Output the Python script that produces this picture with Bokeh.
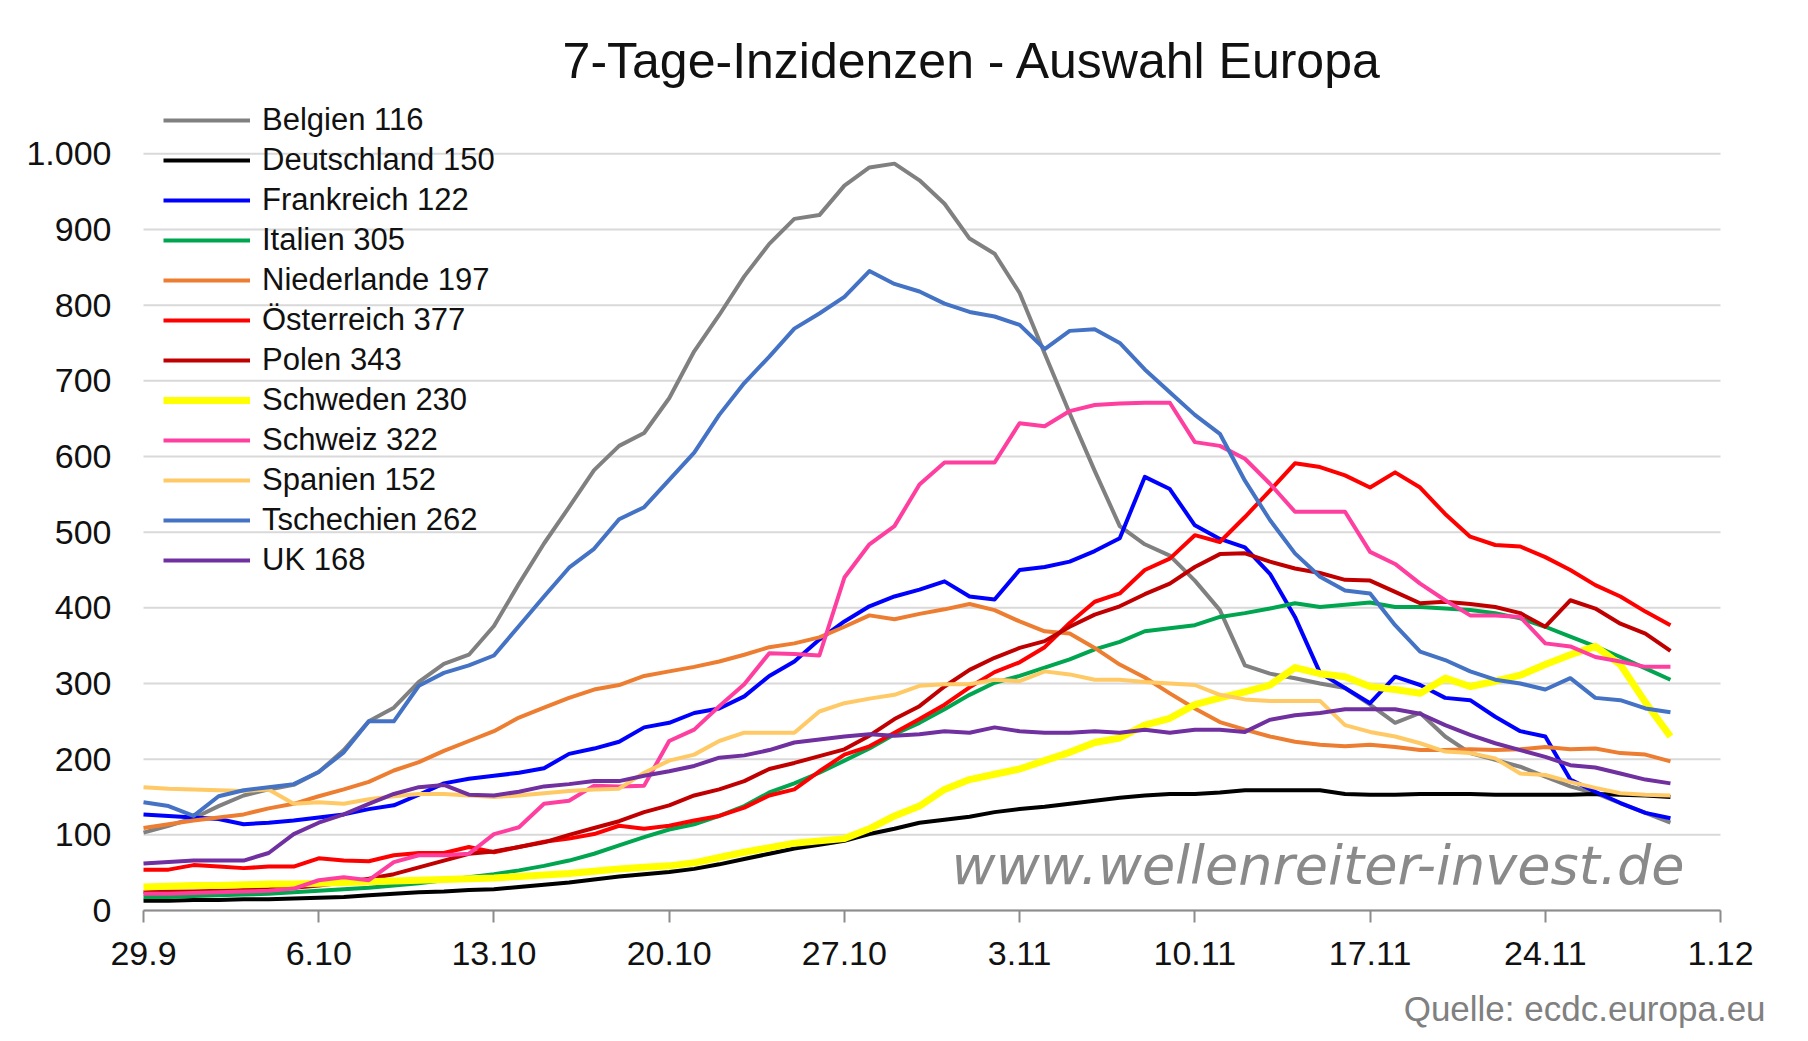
import pandas as pd
from bokeh.plotting import figure
from bokeh.models import Range1d, FixedTicker, Legend, LegendItem, Label
from bokeh.embed import file_html
from bokeh.resources import INLINE

# daily values 29.9. - 29.11.
dates = pd.date_range("2020-09-29", "2020-11-29", freq="D")
days = (dates - dates[0]).days.tolist()

belgien = [103, 112, 122, 138, 152, 160, 166, 183, 212, 250, 268, 302, 326, 338, 376, 432,
           485, 533, 582, 614, 631, 677, 739, 787, 838, 881, 914, 919, 958, 982, 987, 965,
           934, 888, 868, 816, 736, 657, 581, 508, 484, 469, 436, 397, 324, 313, 307, 300,
           294, 272, 248, 261, 230, 208, 199, 190, 177, 164, 155, 142, 129, 116]
deutschland = [13, 13, 14, 14, 15, 15, 16, 17, 18, 20, 22, 24, 25, 27, 28, 31,
               34, 37, 41, 45, 48, 51, 55, 61, 68, 75, 82, 87, 92, 101, 108, 116,
               120, 124, 130, 134, 137, 141, 145, 149, 152, 154, 154, 156, 159, 159, 159, 159,
               154, 153, 153, 154, 154, 154, 153, 153, 153, 153, 154, 153, 152, 150]
frankreich = [127, 125, 123, 121, 114, 116, 119, 123, 127, 134, 139, 153, 168, 174, 178, 182,
              188, 207, 214, 223, 242, 248, 261, 267, 283, 310, 329, 358, 382, 402, 415, 424,
              435, 415, 411, 450, 454, 461, 475, 492, 573, 557, 509, 491, 480, 445, 388, 314,
              294, 274, 309, 298, 281, 278, 256, 237, 230, 173, 157, 142, 129, 122]
italien = [18, 18, 19, 20, 21, 22, 24, 26, 28, 30, 33, 36, 40, 44, 48, 53,
           59, 66, 75, 86, 97, 107, 114, 125, 138, 156, 168, 182, 198, 214, 233, 248,
           266, 285, 301, 310, 321, 332, 345, 355, 369, 373, 377, 388, 393, 399, 406, 401,
           404, 407, 401, 401, 399, 397, 393, 386, 375, 362, 349, 335, 320, 305]
niederlande = [109, 114, 119, 123, 127, 135, 141, 151, 160, 170, 185, 196, 211, 224, 237, 255,
               268, 281, 292, 298, 310, 316, 322, 329, 338, 348, 353, 361, 375, 390, 385, 392,
               398, 405, 397, 382, 369, 366, 347, 325, 308, 287, 267, 249, 239, 230, 223, 219,
               217, 219, 216, 212, 212, 213, 212, 213, 216, 213, 214, 208, 206, 197]
oesterreich = [54, 54, 60, 58, 56, 58, 58, 69, 66, 65, 73, 76, 76, 84, 77, 84,
               91, 95, 101, 112, 108, 112, 119, 125, 136, 152, 160, 184, 206, 217, 235, 253,
               272, 295, 315, 328, 348, 380, 408, 419, 450, 465, 496, 487, 520, 555, 591, 586,
               575, 559, 579, 559, 524, 494, 483, 481, 467, 450, 430, 415, 395, 377]
polen = [24, 25, 25, 26, 27, 28, 30, 33, 37, 42, 48, 57, 66, 75, 78, 84,
         90, 100, 109, 118, 130, 139, 152, 160, 171, 187, 195, 204, 213, 231, 253, 270,
         296, 318, 334, 347, 356, 375, 391, 402, 418, 432, 454, 471, 472, 461, 452, 446,
         437, 436, 421, 406, 408, 405, 401, 393, 375, 410, 399, 379, 366, 343]
schweden = [31, 32, 33, 33, 34, 35, 35, 36, 37, 38, 39, 40, 41, 42, 43, 45,
            47, 49, 52, 55, 57, 59, 63, 70, 77, 83, 89, 92, 95, 108, 125, 138,
            160, 173, 180, 187, 198, 209, 222, 228, 245, 254, 272, 281, 289, 298, 321, 313,
            309, 296, 292, 287, 307, 296, 303, 311, 325, 338, 349, 325, 275, 230]
schweiz = [22, 22, 23, 24, 25, 26, 29, 40, 44, 40, 64, 73, 73, 75, 101, 110,
           141, 145, 165, 164, 165, 224, 239, 270, 299, 340, 339, 337, 440, 484, 508, 563,
           592, 592, 592, 644, 640, 660, 668, 670, 671, 671, 619, 614, 597, 564, 527, 527,
           527, 474, 458, 432, 410, 390, 390, 388, 353, 349, 335, 329, 322, 322]
spanien = [163, 161, 160, 159, 158, 160, 141, 143, 141, 147, 151, 154, 154, 152, 150, 152,
           155, 158, 160, 161, 182, 198, 206, 224, 235, 235, 235, 263, 274, 280, 285, 297,
           299, 299, 305, 303, 316, 312, 305, 305, 302, 300, 298, 285, 279, 277, 277, 277,
           245, 236, 230, 221, 210, 208, 201, 181, 179, 170, 162, 155, 153, 152]
tschechien = [143, 138, 125, 151, 159, 163, 167, 183, 209, 250, 250, 297, 314, 324, 337, 376,
              415, 453, 478, 517, 533, 569, 605, 655, 697, 732, 769, 789, 811, 845, 828, 818,
              802, 791, 785, 774, 742, 766, 768, 750, 715, 685, 655, 630, 568, 516, 472, 441,
              423, 419, 377, 342, 331, 316, 305, 300, 292, 307, 281, 278, 267, 262]
uk = [62, 64, 66, 66, 66, 76, 101, 116, 127, 141, 154, 163, 166, 153, 152, 157,
      164, 167, 171, 171, 178, 184, 191, 202, 205, 212, 222, 226, 230, 233, 231, 233,
      237, 235, 242, 237, 235, 235, 237, 235, 239, 235, 239, 239, 236, 252, 258, 261,
      266, 266, 266, 260, 245, 232, 221, 212, 203, 192, 189, 181, 173, 168]

tick_dates = pd.date_range("2020-09-29", "2020-12-01", freq="7D")
tick_labels = ["29.9", "6.10", "13.10", "20.10", "27.10", "3.11", "10.11", "17.11", "24.11", "1.12"]
y_ticks = [0, 100, 200, 300, 400, 500, 600, 700, 800, 900, 1000]
y_labels = ["0", "100", "200", "300", "400", "500", "600", "700", "800", "900", "1.000"]

series = [
    ("Belgien", belgien, "#808080", 4),
    ("Deutschland", deutschland, "#000000", 4),
    ("Frankreich", frankreich, "#0000ff", 4),
    ("Italien", italien, "#00a550", 4),
    ("Niederlande", niederlande, "#ed7d31", 4),
    ("Österreich", oesterreich, "#ff0000", 4),
    ("Polen", polen, "#c00000", 4),
    ("Schweden", schweden, "#ffff00", 7),
    ("Schweiz", schweiz, "#ff3f9f", 4),
    ("Spanien", spanien, "#ffc965", 4),
    ("Tschechien", tschechien, "#4472c4", 4),
    ("UK", uk, "#7030a0", 4),
]

FONT = "Liberation Sans"
tick_pos = (tick_dates - dates[0]).days.tolist()
x_end = tick_pos[-1]

# frame fills the whole canvas; both axes sit at fixed data locations so that
# tick labels and the source note are drawn inside it
p = figure(width=1792, height=1040, x_range=Range1d(-5.713, 65.876), y_range=Range1d(-171.8, 1202.6),
           output_backend="svg", toolbar_location=None,
           min_border_left=0, min_border_right=0, min_border_top=0, min_border_bottom=0)
p.outline_line_color = None
p.background_fill_color = "white"
p.xgrid.visible = False
p.ygrid.visible = False

# horizontal grid lines only across the date span
p.segment(x0=0, x1=x_end, y0=y_ticks, y1=y_ticks, line_color="#d9d9d9", line_width=2)

# x axis
p.xaxis.fixed_location = 0
p.xaxis.bounds = (0, x_end)
p.xaxis.ticker = FixedTicker(ticks=tick_pos)
p.xaxis.major_label_overrides = dict(zip(tick_pos, tick_labels))
p.xaxis.minor_tick_line_color = None
p.xaxis.axis_line_color = "#8c8c8c"
p.xaxis.axis_line_width = 2
p.xaxis.major_tick_line_color = "#8c8c8c"
p.xaxis.major_tick_line_width = 2
p.xaxis.major_tick_out = 12
p.xaxis.major_tick_in = 0
p.xaxis.major_label_standoff = 19
p.xaxis.major_label_text_font = FONT
p.xaxis.major_label_text_font_size = "34px"
p.xaxis.major_label_text_color = "#111111"

# y axis
p.yaxis.fixed_location = 0
p.yaxis.bounds = (0, 1000)
p.yaxis.ticker = FixedTicker(ticks=y_ticks)
p.yaxis.major_label_overrides = dict(zip(y_ticks, y_labels))
p.yaxis.axis_line_color = None
p.yaxis.major_tick_line_color = None
p.yaxis.minor_tick_line_color = None
p.yaxis.major_tick_out = 0
p.yaxis.major_tick_in = 0
p.yaxis.major_label_standoff = 32
p.yaxis.major_label_text_font = FONT
p.yaxis.major_label_text_font_size = "34px"
p.yaxis.major_label_text_color = "#111111"

items = []
for name, vals, color, lw in series:
    r = p.line(days, vals, line_color=color, line_width=lw, line_join="round")
    items.append(LegendItem(label=f"{name} {vals[-1]}", renderers=[r]))

# legend box: left edge 163 px, bottom edge 580 px from the top of the page
legend = Legend(items=items, location=(163, 460), glyph_width=87, glyph_height=40,
                label_height=40, label_standoff=12, spacing=0, padding=0, margin=0,
                label_text_font=FONT, label_text_font_size="31px",
                label_text_color="#111111",
                background_fill_alpha=0, border_line_alpha=0)
p.add_layout(legend)

title = Label(x=33.12, y=1122, text="7-Tage-Inzidenzen - Auswahl Europa",
              text_align="center", text_baseline="middle",
              text_font=FONT, text_font_size="50px", text_color="#111111")
p.add_layout(title)

watermark = Label(x=46.92, y=60, text="www.wellenreiter-invest.de",
                  text_align="center", text_baseline="middle",
                  text_font="DejaVu Sans", text_font_style="italic",
                  text_font_size="54px", text_color="#8a8a8a")
p.add_layout(watermark)

source = Label(x=64.8, y=-130, text="Quelle: ecdc.europa.eu",
               text_align="right", text_baseline="middle",
               text_font=FONT, text_font_size="35px", text_color="#808080")
p.add_layout(source)

open("out.html", "w").write(file_html(p, INLINE))
